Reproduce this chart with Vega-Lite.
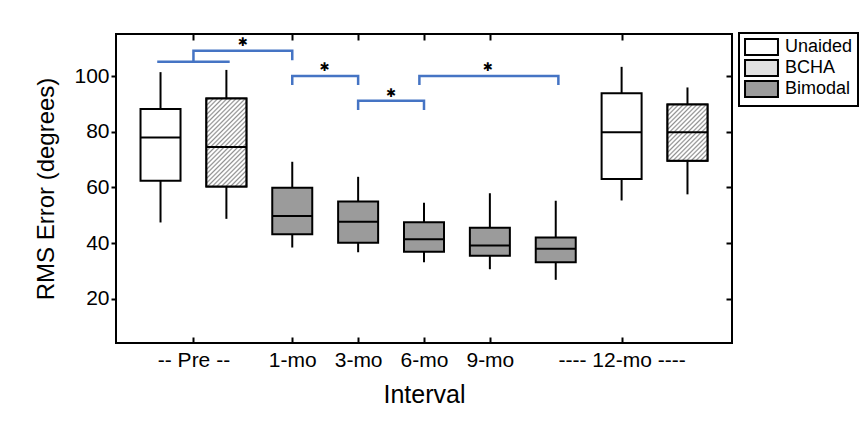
{
  "$schema": "https://vega.github.io/schema/vega-lite/v6.json",
  "autosize": "none",
  "width": 616,
  "height": 309,
  "padding": {"left": 116, "top": 34, "right": 136, "bottom": 82},
  "background": "white",
  "config": {
    "font": "Liberation Sans",
    "view": {"stroke": "black", "strokeWidth": 2},
    "axis": {"labelColor": "black", "titleColor": "black", "tickColor": "black", "grid": false, "domain": false},
    "legend": {
      "orient": "none", "legendX": 623, "legendY": -1,
      "strokeColor": "black", "strokeWidth": 2, "padding": 5,
      "labelFontSize": 18, "labelColor": "black", "labelOffset": 14.5,
      "symbolType": "M-2.06,-1H2.06V1H-2.06Z", "symbolSize": 256, "symbolOffset": 8.5,
      "symbolStrokeColor": "black", "symbolStrokeWidth": 2, "symbolOpacity": 1,
      "rowPadding": -3
    }
  },
  "datasets": {
    "boxes": [
      {"interval": "Pre", "device": "Unaided", "slot": -1, "lo": 47.4, "q1": 62.4, "med": 77.9, "q3": 88.2, "hi": 101.4},
      {"interval": "Pre", "device": "BCHA", "slot": 0, "lo": 48.7, "q1": 60.3, "med": 74.5, "q3": 91.9, "hi": 102.2},
      {"interval": "1-mo", "device": "Bimodal", "slot": 1, "lo": 38.4, "q1": 43.2, "med": 49.7, "q3": 59.9, "hi": 69.2},
      {"interval": "3-mo", "device": "Bimodal", "slot": 2, "lo": 36.7, "q1": 40.1, "med": 47.7, "q3": 54.9, "hi": 63.8},
      {"interval": "6-mo", "device": "Bimodal", "slot": 3, "lo": 33.1, "q1": 36.9, "med": 41.4, "q3": 47.5, "hi": 54.5},
      {"interval": "9-mo", "device": "Bimodal", "slot": 4, "lo": 30.6, "q1": 35.4, "med": 39.1, "q3": 45.5, "hi": 57.9},
      {"interval": "12-mo", "device": "Bimodal", "slot": 5, "lo": 26.8, "q1": 33.1, "med": 38.0, "q3": 42.0, "hi": 55.2},
      {"interval": "12-mo", "device": "Unaided", "slot": 6, "lo": 55.3, "q1": 63.0, "med": 79.8, "q3": 93.8, "hi": 103.3},
      {"interval": "12-mo", "device": "BCHA", "slot": 7, "lo": 57.5, "q1": 69.6, "med": 79.8, "q3": 89.8, "hi": 95.9}
    ],
    "brackets": [
      {"bracket": "a", "seq": 1, "u": -1.05, "v": 105.1},
      {"bracket": "a", "seq": 2, "u": 0.05, "v": 105.1},
      {"bracket": "b", "seq": 1, "u": -0.5, "v": 105.1},
      {"bracket": "b", "seq": 2, "u": -0.5, "v": 109.1},
      {"bracket": "b", "seq": 3, "u": 1, "v": 109.1},
      {"bracket": "b", "seq": 4, "u": 1, "v": 105.7},
      {"bracket": "c", "seq": 1, "u": 1, "v": 96.8},
      {"bracket": "c", "seq": 2, "u": 1, "v": 100},
      {"bracket": "c", "seq": 3, "u": 2, "v": 100},
      {"bracket": "c", "seq": 4, "u": 2, "v": 96.8},
      {"bracket": "d", "seq": 1, "u": 2, "v": 87.8},
      {"bracket": "d", "seq": 2, "u": 2, "v": 91.1},
      {"bracket": "d", "seq": 3, "u": 3, "v": 91.1},
      {"bracket": "d", "seq": 4, "u": 3, "v": 87.8},
      {"bracket": "e", "seq": 1, "u": 2.93, "v": 96.8},
      {"bracket": "e", "seq": 2, "u": 2.93, "v": 100},
      {"bracket": "e", "seq": 3, "u": 5.04, "v": 100},
      {"bracket": "e", "seq": 4, "u": 5.04, "v": 96.8}
    ],
    "stars": [
      {"u": 0.25, "v": 112.3, "label": "✱"},
      {"u": 1.49, "v": 103.3, "label": "✱"},
      {"u": 2.5, "v": 93.8, "label": "✱"},
      {"u": 3.97, "v": 103.3, "label": "✱"}
    ]
  },
  "resolve": {"axis": {"x": "independent", "y": "independent"}},
  "layer": [
    {
      "data": {"name": "boxes"},
      "mark": {"type": "rule", "color": "black", "strokeWidth": 2},
      "encoding": {
        "x": {"field": "slot", "type": "quantitative",
          "scale": {"domain": [-1.6, 7.6], "nice": false, "zero": false},
          "axis": {"orient": "bottom", "offset": -6, "values": [-0.5, 1, 2, 3, 4, 6], "tickSize": 6, "tickWidth": 2,
            "labelFontSize": 21, "labelPadding": 6,
            "labelExpr": "datum.value == -0.5 ? '-- Pre --' : datum.value == 1 ? '1-mo' : datum.value == 2 ? '3-mo' : datum.value == 3 ? '6-mo' : datum.value == 4 ? '9-mo' : '---- 12-mo ----'",
            "title": "Interval", "titleFontSize": 25, "titleFontWeight": "normal", "titlePadding": 12}},
        "y": {"field": "lo", "type": "quantitative",
          "scale": {"domain": [4.1, 115.1], "nice": false, "zero": false},
          "axis": {"orient": "left", "values": [20, 40, 60, 80, 100], "tickSize": 5, "tickWidth": 2,
            "labelFontSize": 21, "labelPadding": 2,
            "title": "RMS Error (degrees)", "titleFontSize": 24, "titleFontWeight": "normal", "titlePadding": 15}},
        "y2": {"field": "hi"}
      }
    },
    {
      "data": {"name": "boxes"},
      "mark": {"type": "bar", "width": 40, "stroke": "black", "strokeWidth": 2},
      "encoding": {
        "x": {"field": "slot", "type": "quantitative",
          "axis": {"orient": "top", "offset": -6, "values": [-0.5, 1, 2, 3, 4, 6], "tickSize": 6, "tickWidth": 2, "labels": false, "title": null}},
        "y": {"field": "q1", "type": "quantitative",
          "axis": {"orient": "right", "offset": -6, "values": [20, 40, 60, 80, 100], "tickSize": 6, "tickWidth": 2, "labels": false, "title": null}},
        "y2": {"field": "q3"},
        "fill": {"field": "device", "type": "nominal", "title": null,
          "scale": {"domain": ["Unaided", "BCHA", "Bimodal"], "range": ["#ffffff", "#e2e2e2", "#9b9b9b"]}}
      }
    },
    {
      "data": {"name": "boxes"},
      "transform": [{"filter": "datum.slot == 0"}],
      "mark": {"type": "bar", "width": 40, "stroke": "black", "strokeWidth": 2,
        "fill": {"gradient": "linear", "x1": 0, "y1": 0, "x2": 0.5479, "y2": 1.2054, "stops": [
          {"offset": 0.005, "color": "#ffffff"},{"offset": 0.018, "color": "#909090"},{"offset": 0.031, "color": "#ffffff"},
          {"offset": 0.041, "color": "#ffffff"},{"offset": 0.054, "color": "#909090"},{"offset": 0.067, "color": "#ffffff"},
          {"offset": 0.076, "color": "#ffffff"},{"offset": 0.089, "color": "#909090"},{"offset": 0.102, "color": "#ffffff"},
          {"offset": 0.112, "color": "#ffffff"},{"offset": 0.125, "color": "#909090"},{"offset": 0.138, "color": "#ffffff"},
          {"offset": 0.148, "color": "#ffffff"},{"offset": 0.161, "color": "#909090"},{"offset": 0.174, "color": "#ffffff"},
          {"offset": 0.183, "color": "#ffffff"},{"offset": 0.196, "color": "#909090"},{"offset": 0.209, "color": "#ffffff"},
          {"offset": 0.219, "color": "#ffffff"},{"offset": 0.232, "color": "#909090"},{"offset": 0.245, "color": "#ffffff"},
          {"offset": 0.255, "color": "#ffffff"},{"offset": 0.268, "color": "#909090"},{"offset": 0.281, "color": "#ffffff"},
          {"offset": 0.291, "color": "#ffffff"},{"offset": 0.304, "color": "#909090"},{"offset": 0.317, "color": "#ffffff"},
          {"offset": 0.326, "color": "#ffffff"},{"offset": 0.339, "color": "#909090"},{"offset": 0.352, "color": "#ffffff"},
          {"offset": 0.362, "color": "#ffffff"},{"offset": 0.375, "color": "#909090"},{"offset": 0.388, "color": "#ffffff"},
          {"offset": 0.398, "color": "#ffffff"},{"offset": 0.411, "color": "#909090"},{"offset": 0.424, "color": "#ffffff"},
          {"offset": 0.433, "color": "#ffffff"},{"offset": 0.446, "color": "#909090"},{"offset": 0.459, "color": "#ffffff"},
          {"offset": 0.469, "color": "#ffffff"},{"offset": 0.482, "color": "#909090"},{"offset": 0.495, "color": "#ffffff"},
          {"offset": 0.505, "color": "#ffffff"},{"offset": 0.518, "color": "#909090"},{"offset": 0.531, "color": "#ffffff"},
          {"offset": 0.541, "color": "#ffffff"},{"offset": 0.554, "color": "#909090"},{"offset": 0.567, "color": "#ffffff"},
          {"offset": 0.576, "color": "#ffffff"},{"offset": 0.589, "color": "#909090"},{"offset": 0.602, "color": "#ffffff"},
          {"offset": 0.612, "color": "#ffffff"},{"offset": 0.625, "color": "#909090"},{"offset": 0.638, "color": "#ffffff"},
          {"offset": 0.648, "color": "#ffffff"},{"offset": 0.661, "color": "#909090"},{"offset": 0.674, "color": "#ffffff"},
          {"offset": 0.683, "color": "#ffffff"},{"offset": 0.696, "color": "#909090"},{"offset": 0.709, "color": "#ffffff"},
          {"offset": 0.719, "color": "#ffffff"},{"offset": 0.732, "color": "#909090"},{"offset": 0.745, "color": "#ffffff"},
          {"offset": 0.755, "color": "#ffffff"},{"offset": 0.768, "color": "#909090"},{"offset": 0.781, "color": "#ffffff"},
          {"offset": 0.791, "color": "#ffffff"},{"offset": 0.804, "color": "#909090"},{"offset": 0.817, "color": "#ffffff"},
          {"offset": 0.826, "color": "#ffffff"},{"offset": 0.839, "color": "#909090"},{"offset": 0.852, "color": "#ffffff"},
          {"offset": 0.862, "color": "#ffffff"},{"offset": 0.875, "color": "#909090"},{"offset": 0.888, "color": "#ffffff"},
          {"offset": 0.898, "color": "#ffffff"},{"offset": 0.911, "color": "#909090"},{"offset": 0.924, "color": "#ffffff"},
          {"offset": 0.933, "color": "#ffffff"},{"offset": 0.946, "color": "#909090"},{"offset": 0.959, "color": "#ffffff"},
          {"offset": 0.969, "color": "#ffffff"},{"offset": 0.982, "color": "#909090"},{"offset": 0.995, "color": "#ffffff"}
        ]}},
      "encoding": {
        "x": {"field": "slot", "type": "quantitative", "axis": null},
        "y": {"field": "q1", "type": "quantitative", "axis": null},
        "y2": {"field": "q3"}
      }
    },
    {
      "data": {"name": "boxes"},
      "transform": [{"filter": "datum.slot == 7"}],
      "mark": {"type": "bar", "width": 40, "stroke": "black", "strokeWidth": 2,
        "fill": {"gradient": "linear", "x1": 0, "y1": 0, "x2": 1.076, "y2": 1.5118, "stops": [
          {"offset": 0.005, "color": "#ffffff"},{"offset": 0.018, "color": "#909090"},{"offset": 0.031, "color": "#ffffff"},
          {"offset": 0.041, "color": "#ffffff"},{"offset": 0.054, "color": "#909090"},{"offset": 0.067, "color": "#ffffff"},
          {"offset": 0.076, "color": "#ffffff"},{"offset": 0.089, "color": "#909090"},{"offset": 0.102, "color": "#ffffff"},
          {"offset": 0.112, "color": "#ffffff"},{"offset": 0.125, "color": "#909090"},{"offset": 0.138, "color": "#ffffff"},
          {"offset": 0.148, "color": "#ffffff"},{"offset": 0.161, "color": "#909090"},{"offset": 0.174, "color": "#ffffff"},
          {"offset": 0.183, "color": "#ffffff"},{"offset": 0.196, "color": "#909090"},{"offset": 0.209, "color": "#ffffff"},
          {"offset": 0.219, "color": "#ffffff"},{"offset": 0.232, "color": "#909090"},{"offset": 0.245, "color": "#ffffff"},
          {"offset": 0.255, "color": "#ffffff"},{"offset": 0.268, "color": "#909090"},{"offset": 0.281, "color": "#ffffff"},
          {"offset": 0.291, "color": "#ffffff"},{"offset": 0.304, "color": "#909090"},{"offset": 0.317, "color": "#ffffff"},
          {"offset": 0.326, "color": "#ffffff"},{"offset": 0.339, "color": "#909090"},{"offset": 0.352, "color": "#ffffff"},
          {"offset": 0.362, "color": "#ffffff"},{"offset": 0.375, "color": "#909090"},{"offset": 0.388, "color": "#ffffff"},
          {"offset": 0.398, "color": "#ffffff"},{"offset": 0.411, "color": "#909090"},{"offset": 0.424, "color": "#ffffff"},
          {"offset": 0.433, "color": "#ffffff"},{"offset": 0.446, "color": "#909090"},{"offset": 0.459, "color": "#ffffff"},
          {"offset": 0.469, "color": "#ffffff"},{"offset": 0.482, "color": "#909090"},{"offset": 0.495, "color": "#ffffff"},
          {"offset": 0.505, "color": "#ffffff"},{"offset": 0.518, "color": "#909090"},{"offset": 0.531, "color": "#ffffff"},
          {"offset": 0.541, "color": "#ffffff"},{"offset": 0.554, "color": "#909090"},{"offset": 0.567, "color": "#ffffff"},
          {"offset": 0.576, "color": "#ffffff"},{"offset": 0.589, "color": "#909090"},{"offset": 0.602, "color": "#ffffff"},
          {"offset": 0.612, "color": "#ffffff"},{"offset": 0.625, "color": "#909090"},{"offset": 0.638, "color": "#ffffff"},
          {"offset": 0.648, "color": "#ffffff"},{"offset": 0.661, "color": "#909090"},{"offset": 0.674, "color": "#ffffff"},
          {"offset": 0.683, "color": "#ffffff"},{"offset": 0.696, "color": "#909090"},{"offset": 0.709, "color": "#ffffff"},
          {"offset": 0.719, "color": "#ffffff"},{"offset": 0.732, "color": "#909090"},{"offset": 0.745, "color": "#ffffff"},
          {"offset": 1, "color": "#ffffff"}
        ]}},
      "encoding": {
        "x": {"field": "slot", "type": "quantitative", "axis": null},
        "y": {"field": "q1", "type": "quantitative", "axis": null},
        "y2": {"field": "q3"}
      }
    },
    {
      "data": {"name": "boxes"},
      "mark": {"type": "tick", "orient": "horizontal", "size": 40, "thickness": 2, "color": "black", "opacity": 1},
      "encoding": {
        "x": {"field": "slot", "type": "quantitative", "axis": null},
        "y": {"field": "med", "type": "quantitative", "axis": null}
      }
    },
    {
      "data": {"name": "brackets"},
      "mark": {"type": "line", "color": "#4574c4", "strokeWidth": 2.5},
      "encoding": {
        "x": {"field": "u", "type": "quantitative", "axis": null},
        "y": {"field": "v", "type": "quantitative", "axis": null},
        "detail": {"field": "bracket"},
        "order": {"field": "seq"}
      }
    },
    {
      "data": {"name": "stars"},
      "mark": {"type": "text", "font": "DejaVu Sans", "fontSize": 12, "color": "black", "baseline": "middle", "align": "center"},
      "encoding": {
        "x": {"field": "u", "type": "quantitative", "axis": null},
        "y": {"field": "v", "type": "quantitative", "axis": null},
        "text": {"field": "label"}
      }
    }
  ]
}
